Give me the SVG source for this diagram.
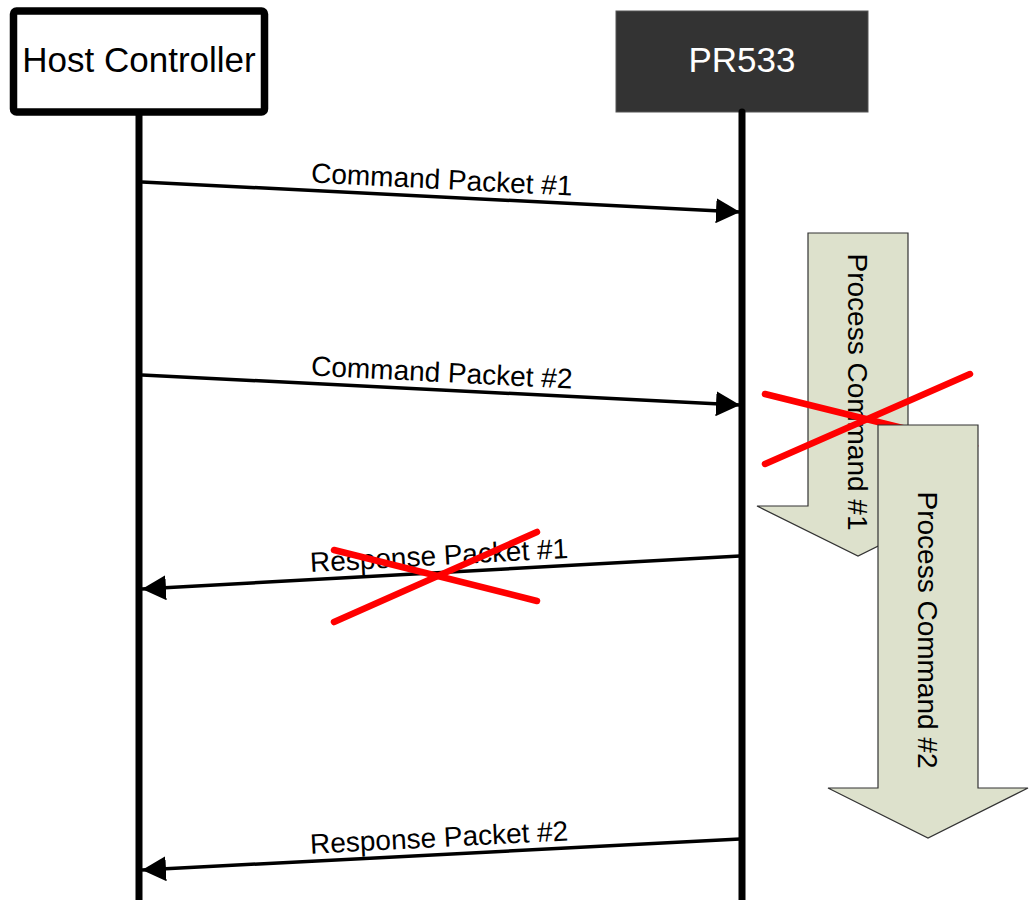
<svg xmlns="http://www.w3.org/2000/svg" width="1029" height="900" viewBox="0 0 1029 900">
<style>
text{font-family:"Liberation Sans",Arial,sans-serif}
.lbl{font-size:28px;fill:#000;text-anchor:middle}
.msg{stroke:#000;stroke-width:3.5;fill:none;marker-end:url(#ah)}
.life{stroke:#000;stroke-width:7;stroke-linecap:round}
.proc{fill:#dde1cc;stroke:#333;stroke-width:1.2}
.x{stroke:#ff0000;stroke-width:6.5;stroke-linecap:round}
</style>
<defs>
<marker id="ah" markerUnits="userSpaceOnUse" markerWidth="24" markerHeight="25" refX="24" refY="12.5" orient="auto">
<path d="M0,0 L24,12.5 L0,25 Z" fill="#000"/>
</marker>
</defs>
<rect width="1029" height="900" fill="#fff"/>
<g id="host">
<rect x="13.5" y="11" width="251" height="101" rx="3" fill="#fff" stroke="#000" stroke-width="7.5"/>
<text x="139" y="72" font-size="35" text-anchor="middle" fill="#000">Host Controller</text>
</g>
<g id="pr533">
<rect x="616" y="11" width="252" height="101" fill="#333" stroke="#555" stroke-width="1"/>
<text x="742" y="72" font-size="35" text-anchor="middle" fill="#fff">PR533</text>
</g>
<g id="lifelines">
<line class="life" x1="139" y1="114" x2="139" y2="904"/>
<line class="life" x1="742" y1="112" x2="742" y2="904"/>
</g>
<g id="proc1">
<polygon class="proc" points="808,233 908,233 908,506 959,506 858,556 757,506 808,506"/>
<text class="lbl" transform="translate(848,392) rotate(90)" x="0" y="0">Process Command #1</text>
</g>
<g id="cross2">
<line class="x" x1="765" y1="394" x2="975" y2="446"/>
<line class="x" x1="765" y1="464" x2="970" y2="374"/>
</g>
<g id="proc2">
<polygon class="proc" points="878,425 978,425 978,788 1028,788 928,838 828,788 878,788"/>
<text class="lbl" transform="translate(918,630) rotate(90)" x="0" y="0">Process Command #2</text>
</g>
<g id="connectors">
<line class="msg" x1="142" y1="182" x2="740" y2="212"/>
<text class="lbl" x="441" y="189" transform="rotate(2.87 441 197)">Command Packet #1</text>
<line class="msg" x1="142" y1="375" x2="740" y2="405"/>
<text class="lbl" x="441" y="382" transform="rotate(2.87 441 390)">Command Packet #2</text>
<line class="msg" x1="740" y1="556" x2="142" y2="589"/>
<text class="lbl" x="440" y="565" transform="rotate(-3.15 440 573)">Response Packet #1</text>
<line class="msg" x1="740" y1="839" x2="142" y2="870"/>
<text class="lbl" x="440" y="847" transform="rotate(-2.96 440 855)">Response Packet #2</text>
</g>
<g id="cross1">
<line class="x" x1="334" y1="622" x2="537" y2="532"/>
<line class="x" x1="334" y1="550" x2="537" y2="601"/>
</g>
</svg>
